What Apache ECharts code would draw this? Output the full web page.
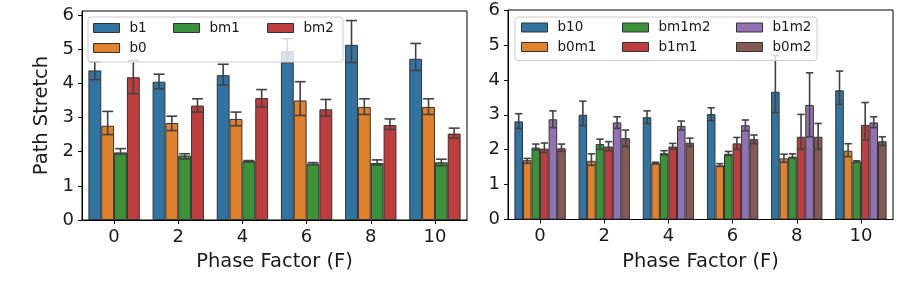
<!DOCTYPE html>
<html>
<head>
<meta charset="utf-8">
<script src="https://cdn.jsdelivr.net/npm/echarts@6/dist/echarts.min.js"></script>
<style>html,body{margin:0;padding:0;background:#fff}#c{width:910px;height:289px}</style>
</head>
<body>
<div id="c"></div>
<script>
const categories = ['0', '2', '4', '6', '8', '10'];
const yTicks = [0, 1, 2, 3, 4, 5, 6];

// Left panel
const b1 = [4.38, 4.05, 4.24, 4.95, 5.13, 4.72];
const b1Lo = [4.11, 3.84, 3.95, 4.61, 4.61, 4.38];
const b1Hi = [4.64, 4.27, 4.56, 5.31, 5.84, 5.17];
const b0 = [2.76, 2.84, 2.96, 3.50, 3.31, 3.31];
const b0Lo = [2.50, 2.62, 2.76, 3.06, 3.09, 3.09];
const b0Hi = [3.18, 3.04, 3.16, 4.05, 3.55, 3.55];
const bm1 = [1.98, 1.89, 1.72, 1.65, 1.67, 1.69];
const bm1Lo = [1.93, 1.79, 1.70, 1.62, 1.61, 1.59];
const bm1Hi = [2.09, 1.94, 1.74, 1.68, 1.76, 1.78];
const bm2 = [4.18, 3.35, 3.57, 3.24, 2.78, 2.53];
const bm2Lo = [3.70, 3.16, 3.31, 3.04, 2.65, 2.40];
const bm2Hi = [4.67, 3.55, 3.82, 3.53, 2.96, 2.69];

// Right panel
const b10 = [2.81, 3.00, 2.93, 3.02, 3.66, 3.70];
const b10Lo = [2.61, 2.69, 2.75, 2.83, 3.06, 3.30];
const b10Hi = [3.03, 3.39, 3.11, 3.20, 4.70, 4.25];
const b0m1 = [1.70, 1.68, 1.61, 1.55, 1.75, 1.97];
const b0m1Lo = [1.61, 1.55, 1.59, 1.52, 1.64, 1.80];
const b0m1Hi = [1.75, 1.88, 1.64, 1.60, 1.87, 2.17];
const bm1m2 = [2.06, 2.16, 1.90, 1.88, 1.80, 1.66];
const bm1m2Lo = [1.99, 2.01, 1.85, 1.83, 1.76, 1.64];
const bm1m2Hi = [2.16, 2.30, 1.97, 1.95, 1.88, 1.68];
const b1m1 = [2.03, 2.09, 2.09, 2.18, 2.37, 2.71];
const b1m1Lo = [1.92, 1.97, 2.01, 2.01, 2.01, 2.28];
const b1m1Hi = [2.19, 2.23, 2.18, 2.35, 3.01, 3.35];
const b1m2 = [2.87, 2.78, 2.68, 2.70, 3.28, 2.78];
const b1m2Lo = [2.63, 2.61, 2.56, 2.54, 2.37, 2.63];
const b1m2Hi = [3.11, 2.94, 2.82, 2.85, 4.20, 2.94];
const b0m2 = [2.04, 2.33, 2.20, 2.30, 2.37, 2.24];
const b0m2Lo = [1.95, 2.09, 2.09, 2.17, 2.01, 2.12];
const b0m2Hi = [2.16, 2.56, 2.33, 2.42, 2.75, 2.37];

const leftNames = ['b1', 'b0', 'bm1', 'bm2'];
const rightNames = ['b10', 'b0m1', 'bm1m2', 'b1m1', 'b1m2', 'b0m2'];
const colors = ['#3274a1', '#e1812c', '#3a923a', '#c03d3e', '#9372b2', '#845b53'];

const leftSets = [[b1, b1Lo, b1Hi], [b0, b0Lo, b0Hi], [bm1, bm1Lo, bm1Hi], [bm2, bm2Lo, bm2Hi]];
const rightSets = [[b10, b10Lo, b10Hi], [b0m1, b0m1Lo, b0m1Hi], [bm1m2, bm1m2Lo, bm1m2Hi],
                   [b1m1, b1m1Lo, b1m1Hi], [b1m2, b1m2Lo, b1m2Hi], [b0m2, b0m2Lo, b0m2Hi]];

const FONT = 'DejaVu Sans';
const TXT = '#1a1a1a';

function xAxisFor(gi) {
  return {
    type: 'category', gridIndex: gi, data: categories,
    name: 'Phase Factor (F)', nameLocation: 'middle', nameGap: 32,
    nameTextStyle: { fontFamily: FONT, fontSize: 19.5, color: TXT },
    axisLine: { show: true, lineStyle: { color: '#000', width: 1 } },
    axisTick: { show: true, alignWithLabel: true, length: 4, lineStyle: { color: '#000' } },
    axisLabel: { fontFamily: FONT, fontSize: 18, color: TXT, margin: 8 },
    splitLine: { show: false }
  };
}
function yAxisFor(gi, max, name) {
  return {
    type: 'value', gridIndex: gi, min: 0, max: max, interval: 1,
    name: name, nameLocation: 'middle', nameGap: 30,
    nameTextStyle: { fontFamily: FONT, fontSize: 19.5, color: TXT },
    axisLine: { show: true, lineStyle: { color: '#000', width: 1 } },
    axisTick: { show: true, length: 4, lineStyle: { color: '#000' }, customValues: yTicks },
    axisLabel: { fontFamily: FONT, fontSize: 18, color: TXT, margin: 8, customValues: yTicks,
      formatter: v => (Math.abs(v - Math.round(v)) < 1e-6 ? String(Math.round(v)) : '') },
    splitLine: { show: false }
  };
}

function errRender(n) {
  return function (params, api) {
    const cat = api.value(0), k = api.value(1), lo = api.value(2), hi = api.value(3);
    const pLo = api.coord([cat, lo]);
    const pHi = api.coord([cat, hi]);
    const bw = api.size([1, 0])[0] * 0.8 / n;
    const x = pLo[0] + (k - (n - 1) / 2) * bw;
    const cw = bw * 0.85 / 2;
    const st = { stroke: '#424242', lineWidth: 1.6 };
    return {
      type: 'group',
      children: [
        { type: 'line', shape: { x1: x, y1: pLo[1], x2: x, y2: pHi[1] }, style: st },
        { type: 'line', shape: { x1: x - cw, y1: pLo[1], x2: x + cw, y2: pLo[1] }, style: st },
        { type: 'line', shape: { x1: x - cw, y1: pHi[1], x2: x + cw, y2: pHi[1] }, style: st }
      ]
    };
  };
}

const series = [];
leftNames.forEach((nm, i) => {
  series.push({
    type: 'bar', name: nm, xAxisIndex: 0, yAxisIndex: 0, data: leftSets[i][0],
    barGap: '0%', barCategoryGap: '20%',
    itemStyle: { color: colors[i], borderColor: '#333', borderWidth: 1 }
  });
});
rightNames.forEach((nm, i) => {
  series.push({
    type: 'bar', name: nm, xAxisIndex: 1, yAxisIndex: 1, data: rightSets[i][0],
    barGap: '0%', barCategoryGap: '20%',
    itemStyle: { color: colors[i], borderColor: '#333', borderWidth: 1 }
  });
});
const leftErr = [], rightErr = [];
leftSets.forEach((s, k) => categories.forEach((c, j) => leftErr.push([j, k, s[1][j], s[2][j]])));
rightSets.forEach((s, k) => categories.forEach((c, j) => rightErr.push([j, k, s[1][j], s[2][j]])));
series.push({ type: 'custom', xAxisIndex: 0, yAxisIndex: 0, data: leftErr, z: 3, clip: false,
  encode: { x: 0, y: 2 }, renderItem: errRender(4), silent: true });
series.push({ type: 'custom', xAxisIndex: 1, yAxisIndex: 1, data: rightErr, z: 3, clip: false,
  encode: { x: 0, y: 2 }, renderItem: errRender(6), silent: true });

function legendItem(name, left, top) {
  return {
    data: [name], left: left, top: top, padding: 0, z: 60,
    icon: 'rect', itemWidth: 26, itemHeight: 9,
    itemStyle: { borderColor: '#333', borderWidth: 1 },
    textStyle: { fontFamily: FONT, fontSize: 13.5, color: TXT, lineHeight: 16, padding: [0, 0, 0, 5] },
    selectedMode: false
  };
}
const legends = [
  legendItem('b1', 93, 20), legendItem('b0', 93, 40),
  legendItem('bm1', 173, 20), legendItem('bm2', 267, 20),
  legendItem('b10', 521, 19.5), legendItem('b0m1', 521, 39),
  legendItem('bm1m2', 622, 19.5), legendItem('b1m1', 622, 39),
  legendItem('b1m2', 736, 19.5), legendItem('b0m2', 736, 39)
];

const chart = echarts.init(document.getElementById('c'), null, { renderer: 'canvas' });
chart.setOption({
  animation: false,
  backgroundColor: '#fff',
  grid: [
    { left: 82, top: 11, width: 385, height: 209, show: true, borderColor: '#000', borderWidth: 1, backgroundColor: 'transparent' },
    { left: 508, top: 10, width: 385, height: 209.5, show: true, borderColor: '#000', borderWidth: 1, backgroundColor: 'transparent' }
  ],
  xAxis: [xAxisFor(0), xAxisFor(1)],
  yAxis: [yAxisFor(0, 6.12, 'Path Stretch'), yAxisFor(1, 6, '')],
  legend: legends,
  graphic: [
    { type: 'rect', z: 50, shape: { x: 88, y: 17, width: 255, height: 45, r: 3 },
      style: { fill: 'rgba(255,255,255,0.8)', stroke: '#cccccc', lineWidth: 1 } },
    { type: 'rect', z: 50, shape: { x: 515, y: 17, width: 302, height: 43.5, r: 3 },
      style: { fill: 'rgba(255,255,255,0.8)', stroke: '#cccccc', lineWidth: 1 } }
  ],
  series: series
});
</script>
</body>
</html>
